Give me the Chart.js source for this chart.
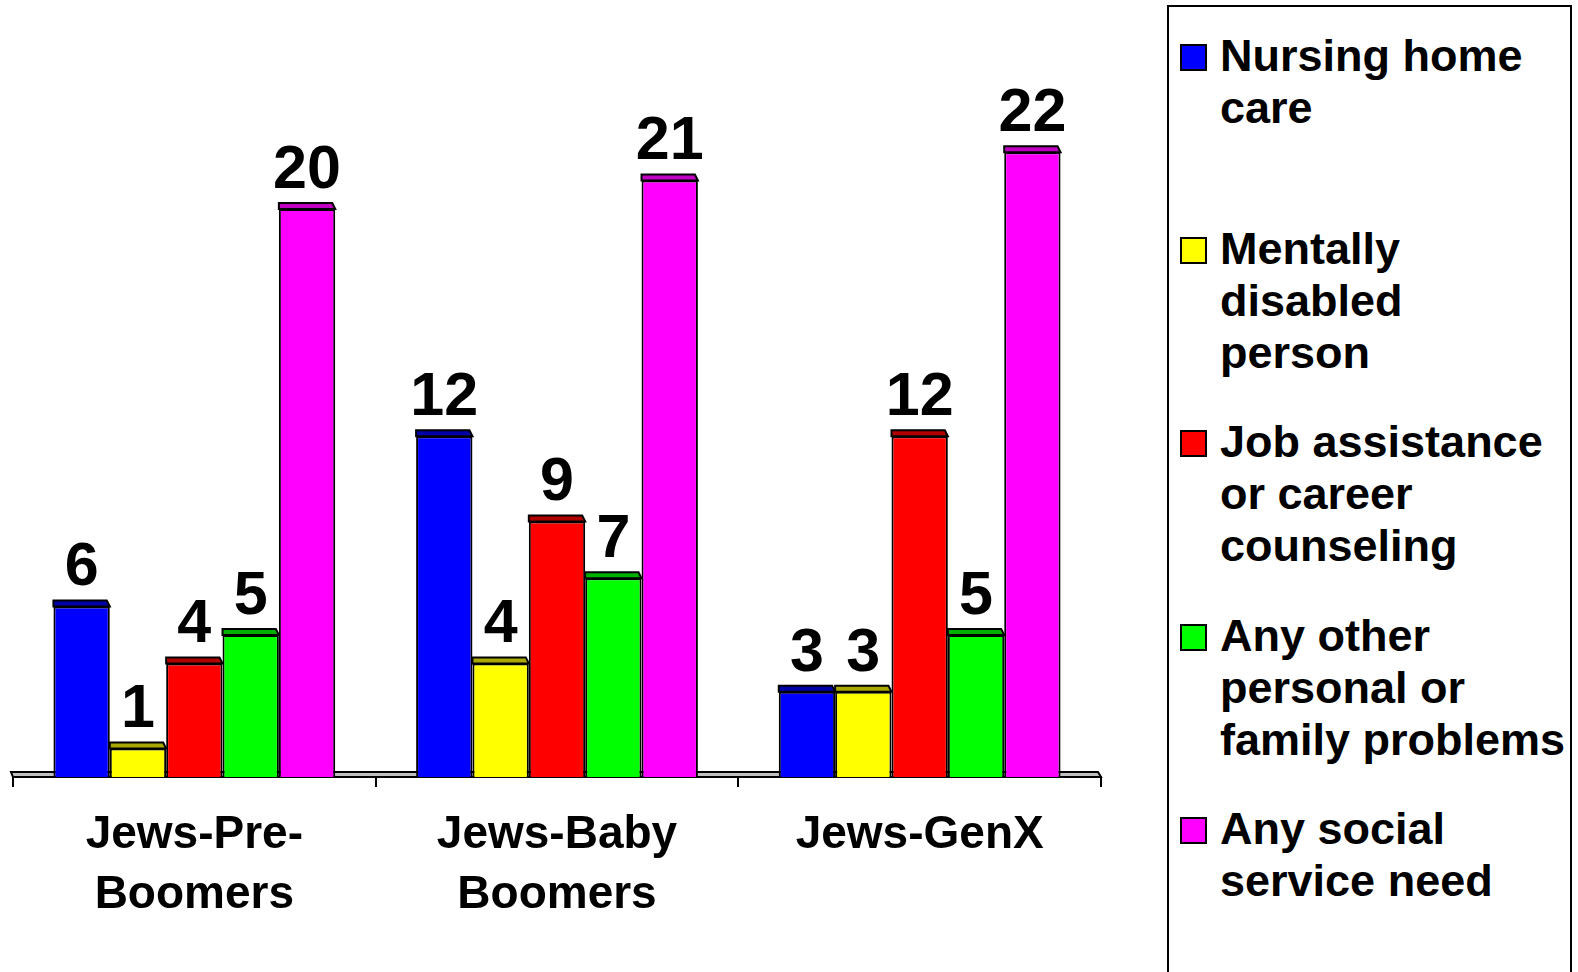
<!DOCTYPE html>
<html>
<head>
<meta charset="utf-8">
<title>Social service needs by generation</title>
<script src="https://cdn.jsdelivr.net/npm/chart.js@4.4.1/dist/chart.umd.min.js"></script>
<style>
  html, body { margin: 0; padding: 0; background: #fff; }
  .wrap { position: relative; width: 1578px; height: 972px; overflow: hidden; }
  #chart { position: absolute; left: 0; top: 0; }
  .legend-box {
    position: absolute; left: 1167px; top: 5px; width: 405px; height: 1000px;
    border: 2px solid #000; box-sizing: border-box; background: #fff;
  }
  .legend-item {
    position: absolute; left: 0; white-space: nowrap;
    font: bold 45px "Liberation Sans", Arial, sans-serif; line-height: 52px; color: #000;
  }
  .legend-swatch {
    position: absolute; left: 11px; top: 14px; width: 27px; height: 27px;
    border: 2px solid #000; box-sizing: border-box;
  }
  .legend-text { position: absolute; left: 51px; top: 0; }
</style>
</head>
<body>
<div class="wrap">
  <canvas id="chart" width="1578" height="972"></canvas>
  <div class="legend-box" id="legendBox"></div>
</div>
<script>
const CATEGORIES = [["Jews-Pre-", "Boomers"], ["Jews-Baby", "Boomers"], ["Jews-GenX"]];

const NURSING_HOME = [6, 12, 3];
const MENTALLY_DISABLED = [1, 4, 3];
const JOB_ASSISTANCE = [4, 9, 12];
const OTHER_PROBLEMS = [5, 7, 5];
const ANY_SOCIAL_SERVICE = [20, 21, 22];

const SERIES_LABELS = [
  ["Nursing home", "care"],
  ["Mentally", "disabled", "person"],
  ["Job assistance", "or career", "counseling"],
  ["Any other", "personal or", "family problems"],
  ["Any social", "service need"],
];

(function () {
  "use strict";

  const FONT = "'Liberation Sans', Arial, sans-serif";
  const FACE_COLORS = ["#0000ff", "#ffff00", "#ff0000", "#00ff00", "#ff00ff"];
  const TOP_COLORS = ["#0000a8", "#a8a800", "#b00000", "#00b000", "#c000c0"];
  const seriesValues = [
    NURSING_HOME, MENTALLY_DISABLED, JOB_ASSISTANCE, OTHER_PROBLEMS, ANY_SOCIAL_SERVICE,
  ];

  // gray 3D floor under the bars
  const floorPlugin = {
    id: "floor",
    beforeDatasetsDraw(chart) {
      const {ctx, chartArea} = chart;
      const base = chartArea.bottom;
      ctx.save();
      ctx.beginPath();
      ctx.moveTo(chartArea.left - 2, base - 5);
      ctx.lineTo(chartArea.right - 3, base - 5);
      ctx.lineTo(chartArea.right, base);
      ctx.lineTo(chartArea.left, base);
      ctx.closePath();
      ctx.fillStyle = "#c0c0c0";
      ctx.fill();
      ctx.lineWidth = 2;
      ctx.strokeStyle = "#000";
      ctx.stroke();
      ctx.restore();
    },
  };

  // darker top face on each bar, then the value above it
  const barTopsPlugin = {
    id: "barTops",
    afterDatasetsDraw(chart) {
      const {ctx} = chart;
      ctx.save();
      chart.data.datasets.forEach((ds, di) => {
        const meta = chart.getDatasetMeta(di);
        meta.data.forEach((bar) => {
          const {x, y, width} = bar.getProps(["x", "y", "width"], true);
          const left = x - width / 2;
          const right = x + width / 2;
          ctx.beginPath();
          ctx.moveTo(left, y);
          ctx.lineTo(left, y - 6);
          ctx.lineTo(right - 3, y - 6);
          ctx.lineTo(right, y);
          ctx.closePath();
          ctx.fillStyle = TOP_COLORS[di];
          ctx.fill();
          ctx.lineWidth = 2;
          ctx.strokeStyle = "#000";
          ctx.stroke();
        });
      });

      ctx.fillStyle = "#000";
      ctx.font = `bold 61px ${FONT}`;
      ctx.textAlign = "center";
      ctx.textBaseline = "middle";
      chart.data.datasets.forEach((ds, di) => {
        const meta = chart.getDatasetMeta(di);
        meta.data.forEach((bar, i) => {
          const {x, y} = bar.getProps(["x", "y"], true);
          ctx.fillText(String(ds.data[i]), x, y - 38);
        });
      });
      ctx.restore();
    },
  };

  const datasets = seriesValues.map((values, i) => ({
    label: SERIES_LABELS[i].join(" "),
    data: values,
    backgroundColor: FACE_COLORS[i],
    borderColor: "#000",
    borderWidth: 2,
    borderSkipped: "start",
    categoryPercentage: 0.777,
    barPercentage: 1,
  }));

  const chart = new Chart(document.getElementById("chart"), {
    type: "bar",
    data: {labels: CATEGORIES, datasets},
    options: {
      responsive: false,
      animation: false,
      devicePixelRatio: 1,
      layout: {padding: {left: 13, right: 477, top: 0, bottom: 0}},
      plugins: {
        legend: {display: false},
        tooltip: {enabled: false},
      },
      scales: {
        x: {
          afterFit(scale) {
            scale.height = 195;
          },
          grid: {
            display: true,
            offset: true,
            drawOnChartArea: false,
            drawTicks: true,
            tickLength: 10,
            lineWidth: 2,
            color: "#000",
          },
          border: {display: true, color: "#000", width: 2},
          ticks: {
            color: "#000",
            padding: 18,
            maxRotation: 0,
            autoSkip: false,
            font: {family: FONT, size: 46, weight: "bold", lineHeight: "60px"},
          },
        },
        y: {
          display: false,
          min: 0,
          max: 27.36,
        },
      },
    },
    plugins: [floorPlugin, barTopsPlugin],
  });

  // legend box built from the chart's datasets
  const legendBox = document.getElementById("legendBox");
  chart.data.datasets.forEach((ds, i) => {
    const item = document.createElement("div");
    item.className = "legend-item";
    item.style.top = `${22.7 + i * 193.3}px`;

    const swatch = document.createElement("span");
    swatch.className = "legend-swatch";
    swatch.style.background = ds.backgroundColor;
    item.appendChild(swatch);

    const text = document.createElement("div");
    text.className = "legend-text";
    SERIES_LABELS[i].forEach((line, li) => {
      if (li > 0) {
        text.appendChild(document.createElement("br"));
      }
      text.appendChild(document.createTextNode(line));
    });
    item.appendChild(text);
    legendBox.appendChild(item);
  });
})();
</script>
</body>
</html>
